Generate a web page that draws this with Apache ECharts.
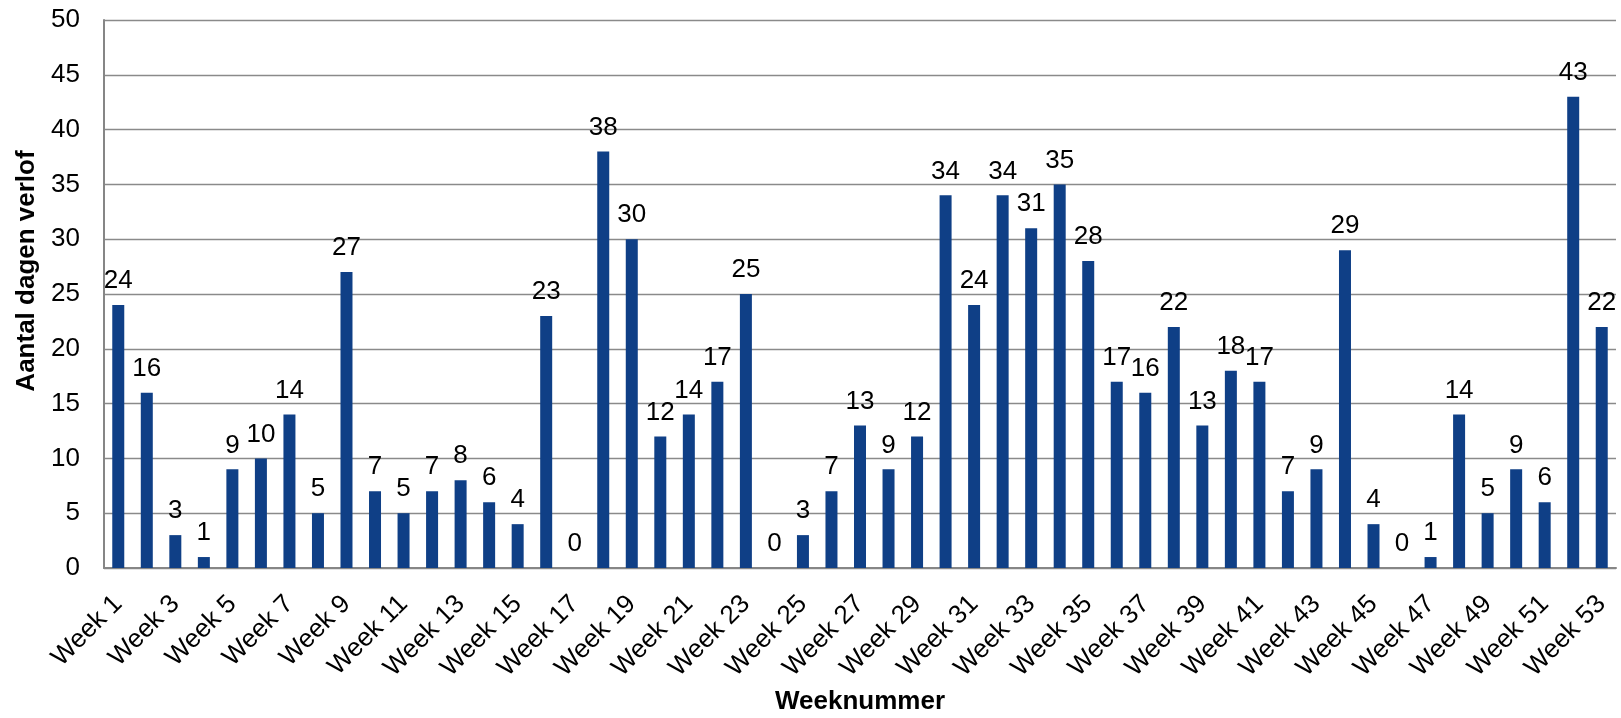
<!DOCTYPE html>
<html>
<head>
<meta charset="utf-8">
<script src="https://cdn.jsdelivr.net/npm/echarts@6/dist/echarts.min.js"></script>
<style>
html,body{margin:0;padding:0;background:#fff;}
#chart{width:1621px;height:718px;}
</style>
</head>
<body>
<div id="chart"></div>
<script>
const weeks = [];
for (let i = 1; i <= 53; i++) weeks.push('Week ' + i);
const values = [24,16,3,1,9,10,14,5,27,7,5,7,8,6,4,23,0,38,30,12,14,17,25,0,3,7,13,9,12,34,24,34,31,35,28,17,16,22,13,18,17,7,9,29,4,0,1,14,5,9,6,43,22];
const yTitle = 'Aantal dagen verlof';
const xTitle = 'Weeknummer';

const font = 'Liberation Sans, Arial, sans-serif';
const chart = echarts.init(document.getElementById('chart'));
chart.setOption({
  animation: false,
  backgroundColor: '#fff',
  grid: {left: 104, top: 20, right: 5, bottom: 150, containLabel: false, outerBoundsMode: 'none'},
  xAxis: {
    type: 'category',
    data: weeks,
    name: xTitle,
    nameLocation: 'middle',
    nameGap: 121,
    nameTextStyle: {fontFamily: font, fontSize: 26, fontWeight: 'bold', color: '#000'},
    axisLine: {lineStyle: {color: '#868686', width: 2}},
    axisTick: {show: false},
    axisLabel: {interval: 1, rotate: 45, margin: 32, fontFamily: font, fontSize: 26, color: '#000'}
  },
  yAxis: {
    type: 'value',
    min: 0, max: 50, interval: 5,
    name: yTitle,
    nameLocation: 'middle',
    nameGap: 64,
    nameTextStyle: {fontFamily: font, fontSize: 26, fontWeight: 'bold', color: '#000', padding: [0, 0, 0, 46]},
    axisLine: {show: true, lineStyle: {color: '#868686', width: 2}},
    axisTick: {show: false},
    splitLine: {lineStyle: {color: '#8a8a8a', width: 1.3}},
    axisLabel: {margin: 24, fontFamily: font, fontSize: 26, color: '#000'}
  },
  series: [{
    type: 'bar',
    data: values,
    barWidth: 12,
    itemStyle: {color: '#0F3F86'},
    label: {show: true, position: 'top', distance: 11, fontFamily: font, fontSize: 26, color: '#000'}
  }]
});
</script>
</body>
</html>
